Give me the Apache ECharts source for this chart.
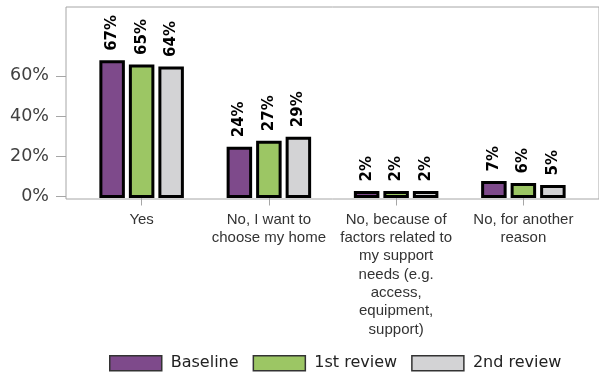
<!DOCTYPE html>
<html>
<head>
<meta charset="utf-8">
<script src="https://cdn.jsdelivr.net/npm/echarts@6/dist/echarts.min.js"></script>
<style>html,body{margin:0;padding:0;background:#fff}#c{width:599px;height:374px}</style>
</head>
<body>
<div id="c"></div>
<script>
const categories = ['Yes', 'No, I want to\nchoose my home', 'No, because of\nfactors related to\nmy support\nneeds (e.g.\naccess,\nequipment,\nsupport)', 'No, for another\nreason'];
const seriesNames = ['Baseline', '1st review', '2nd review'];
const baseline = [67, 24, 2, 7];
const review1 = [65, 27, 2, 6];
const review2 = [64, 29, 2, 5];
const yTicks = [0, 20, 40, 60];
const colors = ['#7E4A8B', '#9CC664', '#D3D3D5'];

const BAR_W = 22.5, BAR_STEP = 29.5;
const chart = echarts.init(document.getElementById('c'));
const mk = (name, values, color, k) => ({
  name, type: 'custom', xAxisIndex: 0, yAxisIndex: 0,
  data: values.map((v, i) => [i, v]),
  encode: { x: 0, y: 1 },
  itemStyle: { color },
  renderItem: (params, api) => {
    const i = api.value(0), v = api.value(1);
    const b = api.coord([i, 0]), t = api.coord([i, v]);
    const cx = b[0] + (k - 1) * BAR_STEP;
    return {
      type: 'rect',
      shape: { x: cx - BAR_W / 2, y: t[1], width: BAR_W, height: b[1] - t[1] },
      style: { fill: api.visual('color'), stroke: '#000', lineWidth: 3 },
      textContent: {
        style: { text: v + '%', fontFamily: 'DejaVu Sans', fontWeight: 'bold', fontSize: 15, fill: '#000', align: 'left', verticalAlign: 'middle' }
      },
      textConfig: { position: 'top', distance: 9.5, rotation: Math.PI / 2 }
    };
  }
});
chart.setOption({
  animation: false,
  grid: [
    { left: 78, right: 12, top: 7, bottom: 177.5 },
    { left: 66, right: -5, top: 7, bottom: 175, show: true, borderColor: '#a6a6a6', borderWidth: 1, backgroundColor: 'transparent' }
  ],
  xAxis: [
    { type: 'category', gridIndex: 0, data: categories,
      axisLine: { show: false },
      axisTick: { show: true, alignWithLabel: true, length: 9, lineStyle: { color: '#a6a6a6' } },
      axisLabel: { interval: 0, margin: 14, fontFamily: 'Liberation Sans', fontSize: 15, lineHeight: 18.3, color: '#333' } },
    { type: 'value', gridIndex: 1, show: false }
  ],
  yAxis: [
    { type: 'value', gridIndex: 0, min: 0, max: 94.3, offset: 12,
      axisLine: { show: false },
      splitLine: { show: false },
      axisTick: { show: true, length: 10, customValues: yTicks, lineStyle: { color: '#a6a6a6' } },
      axisLabel: { customValues: yTicks, formatter: '{value}%', margin: 17, fontFamily: 'DejaVu Sans', fontSize: 17.5, color: '#404040' } },
    { type: 'value', gridIndex: 1, show: false }
  ],
  legend: {
    left: 109, top: 355, padding: 0, itemWidth: 52, itemHeight: 15, itemGap: 14,
    data: seriesNames,
    itemStyle: { borderColor: '#333', borderWidth: 1.5 },
    textStyle: { fontFamily: 'DejaVu Sans', fontSize: 16, color: '#222', padding: [0, 0, 0, 4] },
    icon: 'rect'
  },
  series: [
    mk(seriesNames[0], baseline, colors[0], 0),
    mk(seriesNames[1], review1, colors[1], 1),
    mk(seriesNames[2], review2, colors[2], 2)
  ]
});
</script>
</body>
</html>
